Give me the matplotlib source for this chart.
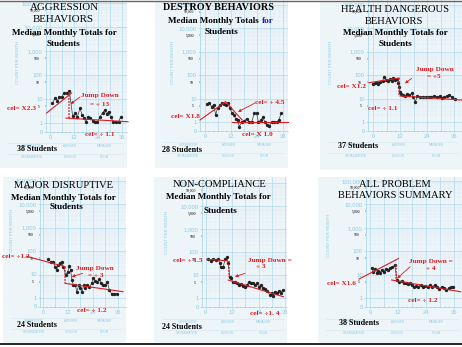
import matplotlib.pyplot as plt
from matplotlib.transforms import Affine2D
from matplotlib.patches import Rectangle
from matplotlib.lines import Line2D

W, H = 462, 347
RED = '#e01a1f'
GRID_TXT = '#8fcbe1'
CARD = '#eef5f9'

plt.rcParams['font.family'] = ['Liberation Serif', 'DejaVu Serif']

# median monthly totals: month number and count per month
agg_month = [1.2, 2.5, 3.7, 4.7, 5.8, 7.0, 8.3, 9.7, 11.3, 12.7, 13.7, 15.0, 16.0, 17.0, 18.0,
             19.0, 20.0, 21.3, 22.7, 23.7, 25.0, 26.3, 27.5, 28.3, 29.3, 30.3, 31.7, 33.0, 34.3, 35.3]
agg_count = [6.6, 10.7, 8.5, 12.5, 11.7, 18.3, 17.3, 21, 2.0, 2.5, 1.8, 4.1, 2.2, 1.6, 1.1,
             1.8, 1.6, 1.25, 1.1, 1.1, 1.8, 2.7, 3.5, 2.4, 3.0, 1.8, 1.1, 1.1, 1.1, 1.8]

des_month = [0.8, 1.8, 3.1, 4.0, 4.9, 5.8, 6.9, 7.7, 8.6, 9.5, 10.5, 11.5, 12.6, 13.4, 14.1, 15.0,
             15.8, 16.9, 18.1, 19.2, 20.3, 21.5, 22.7, 23.8, 24.6, 25.8, 26.6, 27.6, 28.6, 29.6,
             30.7, 31.9, 33.2, 34.1, 35.0]
des_count = [5.8, 6.6, 4.5, 5.5, 2.0, 4.1, 5.3, 6.2, 5.8, 5.3, 6.2, 3.8, 2.3, 2.0, 1.4, 1.2,
             0.63, 1.03, 1.1, 1.4, 1.0, 1.0, 2.3, 2.3, 1.0, 1.2, 1.6, 1.0, 0.75, 0.68,
             1.0, 1.0, 1.0, 1.2, 2.3]

hea_month = [0.15, 0.9, 1.6, 2.4, 3.1, 4.3, 4.9, 5.8, 6.8, 7.6, 8.3, 9.0, 9.9, 10.8, 11.3, 11.7,
             12.0, 12.4, 13.2, 14.2, 15.3, 16.1, 17.2, 17.9, 18.8, 19.7, 20.9, 22.4, 23.6, 24.8,
             25.9, 27.1, 28.3, 29.8, 30.7, 31.6, 32.8, 33.9, 35.0, 36.4]
hea_count = [40, 44, 47, 40, 52, 57, 85, 61, 57, 66, 55, 72, 61, 66, 44, 32,
             19.5, 15.5, 14, 12.8, 15.5, 14, 16.6, 11.3, 7.3, 12.8, 11.3, 12, 11.3, 12,
             12, 12.8, 11.3, 12.8, 10.2, 11.3, 12.8, 14, 11.3, 9.2]

maj_month = [2.5, 3.7, 5.0, 5.8, 6.6, 7.4, 8.2, 9.0, 9.8, 10.9, 11.9, 12.6, 13.3, 13.9, 14.6,
             15.5, 16.3, 17.2, 17.9, 18.8, 19.6, 20.3, 21.3, 22.3, 23.4, 24.2, 25.1, 26.1, 27.1,
             28.0, 29.0, 30.0, 30.9, 31.9, 33.0, 34.1, 35.4]
maj_count = [44, 35, 35, 21.5, 15.5, 25, 32, 35, 21.5, 9.5, 13.2, 23, 15.5, 5.8, 3.6,
             3.6, 1.85, 3.6, 2.6, 1.85, 3.6, 2.6, 3.6, 2.85, 4.2, 6.9, 5.5, 4.9, 6.2,
             4.2, 3.6, 3.6, 4.9, 2.2, 1.5, 1.5, 1.5]

non_month = [1.2, 2.4, 3.5, 4.5, 5.7, 6.5, 7.1, 8.0, 8.8, 9.5, 10.3, 10.9, 11.5, 12.3, 13.3,
             14.2, 15.1, 16.0, 17.0, 17.9, 18.8, 19.7, 20.6, 21.5, 22.4, 23.3, 24.2, 25.1, 26.0,
             27.0, 28.0, 29.1, 30.0, 30.7, 31.5, 32.4, 33.3, 34.2, 35.0]
non_count = [49.6, 43, 49.6, 46, 49.6, 33, 22, 23.6, 49.6, 60, 33, 8.7, 7.4, 5.3, 5.3,
             4.5, 3.8, 4.2, 3.4, 3.2, 3.8, 5.3, 4.5, 4.5, 3.8, 4.5, 3.2, 3.8, 2.7,
             2.5, 2.1, 1.4, 1.65, 1.26, 1.9, 1.65, 2.1, 1.75, 2.3]

all_month = [0.7, 1.4, 2.1, 2.9, 3.6, 4.3, 5.0, 5.9, 6.7, 7.6, 8.6, 9.6, 10.6, 11.7, 12.6, 13.6,
             14.5, 15.3, 16.2, 17.0, 17.9, 18.8, 19.7, 20.7, 21.8, 22.7, 23.7, 24.7, 25.8, 26.7,
             27.8, 28.8, 29.7, 30.8, 31.8, 32.8, 33.8, 34.8, 35.7]
all_count = [19, 13.6, 17.2, 11.6, 15, 12.3, 16, 13.6, 17.2, 16, 19, 21, 26, 6, 5.1, 5.6,
             4.4, 4.6, 4.1, 4.4, 3.7, 3.1, 3.3, 3.1, 3.7, 2.9, 3.3, 3.1, 3.7, 3.1,
             3.7, 2.9, 2.4, 3.1, 2.7, 2.3, 2.7, 2.9, 3.1]

# celeration lines (month, count, month, count), jumps (month, from, to), arrows (tail, head)
agg_cel = [(-1.7, 2.6, 10.8, 17.8), (8.0, 1.6, 39.0, 1.13)]
des_cel = [(-2.3, 1.22, 9.5, 7.3), (9.5, 7.3, 17.1, 1.22), (12.3, 1.0, 38.2, 1.0)]
hea_cel = [(-1.8, 47, 11.6, 74), (12.0, 12.8, 39.4, 8.6)]
maj_cel = [(-8.0, 60, 10.6, 21.5), (10.6, 4.2, 38.5, 1.85)]
non_cel = [(0.45, 49.6, 9.5, 43), (10.3, 6.2, 35.3, 1.17)]
all_cel = [(-4.7, 6.6, 12.2, 49), (9.3, 6.0, 38.9, 1.9)]

agg_jump = (9.5, 19.6, 1.6)
hea_jump = (11.6, 74, 12.8)
maj_jump = (10.6, 21.5, 4.2)
non_jump = (10.6, 43, 8.7)
all_jump = (11.2, 26, 6.0)

agg_arrow = ((15.0, 12.1), (10.3, 6.2))
des_arrow = ((23.0, 6.4), (15.2, 2.7))
hea_arrow = ((17.2, 72), (14.2, 44))
maj_arrow = ((19.1, 11.2), (13.8, 8.1))
non_arrow = ((17.9, 12.2), (13.3, 8.7))
all_arrow = ((17.2, 22), (11.7, 7.1))

fig = plt.figure(figsize=(W / 100, H / 100), dpi=100)
fig.patch.set_facecolor('white')
PX = Affine2D().scale(1 / W, -1 / H).translate(0, 1) + fig.transFigure


def label(x, y, s, size=5.2, color=RED, weight='bold', ha='left', **kw):
    fig.text(x, y, s, transform=PX, fontsize=size, color=color,
             fontweight=weight, ha=ha, va='center', **kw)


def chart(card, grid, x0, pxm, y1, dec, month, count, cel, jump, arrow, side):
    cx0, cy0, cx1, cy1 = card
    fig.add_artist(Rectangle((cx0, cy0), cx1 - cx0, cy1 - cy0, transform=PX,
                             facecolor=CARD, edgecolor='none', zorder=-5))
    gl, gt, gr, gb = grid
    ax = fig.add_axes([gl / W, 1 - gb / H, (gr - gl) / W, (gb - gt) / H])
    ax.set_facecolor('none')
    ax.set_yscale('log')
    xlo, xhi = (gl - x0) / pxm, (gr - x0) / pxm
    ylo, yhi = 10 ** ((y1 - gb) / dec), 10 ** ((y1 - gt) / dec)
    ax.set_xlim(xlo, xhi)
    ax.set_ylim(ylo, yhi)

    # chart paper lines
    for e in range(6):
        for k in range(1, 10):
            v = k * 10 ** e
            if v < yhi:
                ax.axhline(v, color='#b2d9ea' if k == 1 else '#d6ebf3',
                           lw=0.5 if k == 1 else 0.3, zorder=0)
    for m in range(-2, 41, 2):
        if xlo < m < xhi:
            ax.axvline(m, color='#b2d9ea' if m % 6 == 0 else '#dbedf5',
                       lw=0.5 if m % 6 == 0 else 0.3, zorder=0)

    decs = [d for d in (1, 10, 100, 1000, 10000, 100000) if d < yhi]
    halves = [5 * d for d in decs if 5 * d < yhi]
    ax.set_yticks([ylo] + decs, ['0'] + [f'{d:,}' for d in decs])
    ax.set_yticks(halves, [f'{h:,}' for h in halves], minor=True)
    ax.set_xticks([0, 12, 24, 36], ['0', '12', '24', '36'])
    ax.set_xticks(range(0, 37, 2), minor=True)
    ax.tick_params(colors=GRID_TXT, labelsize=4.2, length=1.6, width=0.4, pad=0.8,
                   labelfontfamily='Liberation Sans')
    ax.tick_params(which='minor', labelsize=2.8, length=1, width=0.3)
    for s in ('top', 'right'):
        ax.spines[s].set_visible(False)
    for s in ('left', 'bottom'):
        ax.spines[s].set_color('#a5d3e7')
        ax.spines[s].set_linewidth(0.5)

    ax.plot(month, count, color='#3c3c3c', lw=0.5, marker='o', ms=1.4,
            mec='#222222', mfc='#222222', zorder=3)
    for m0, c0, m1, c1 in cel:
        ax.plot([m0, m1], [c0, c1], color=RED, lw=0.8, zorder=4, clip_on=False)
    if jump:
        ax.plot([jump[0], jump[0]], jump[1:], color=RED, lw=1.1, ls=(0, (1, 1)),
                zorder=4, clip_on=False)
    ax.annotate('', xy=arrow[1], xytext=arrow[0], annotation_clip=False, zorder=5,
                arrowprops=dict(arrowstyle='-|>', color=RED, lw=0.6,
                                mutation_scale=4, shrinkA=0, shrinkB=0))

    label(side[0], side[1], 'COUNT PER MONTH', size=3.2, color=GRID_TXT, weight='normal',
          ha='center', rotation=90, family='Liberation Sans')
    for dy, names in ((15, ('SUPERVISOR', 'ADVISER', 'MANAGER')),
                      (26, ('ORGANIZATION', 'DIVISION', 'ROOM'))):
        fig.add_artist(Line2D([cx0 + 8, cx1 - 4], [gb + dy - 3] * 2, transform=PX,
                              color='#d2e8f1', lw=0.4, zorder=-4))
        for f, nm in zip((0.25, 0.55, 0.82), names):
            label(cx0 + f * (cx1 - cx0), gb + dy, nm, size=2.2, color=GRID_TXT,
                  weight='normal', ha='center', family='Liberation Sans')
    return ax


chart((0, 1, 127, 168), (46, 0, 127, 131.5), 50, 2.0, 123, 24,
      agg_month, agg_count, agg_cel, agg_jump, agg_arrow, (18, 62))
chart((155, 1, 288, 168), (200, 0, 288, 130.5), 205, 2.17, 122, 23.5,
      des_month, des_count, des_cel, None, des_arrow, (173, 62))
chart((320, 1, 462, 170), (368, 0, 462, 130.5), 373, 2.25, 122, 23.5,
      hea_month, hea_count, hea_cel, hea_jump, hea_arrow, (331, 62))
chart((3, 177, 126, 343), (40, 177, 126, 306.5), 43, 2.08, 298, 23.5,
      maj_month, maj_count, maj_cel, maj_jump, maj_arrow, (12, 230))
chart((154, 177, 287, 343), (202, 177, 287, 307), 205.7, 2.2, 298.3, 23,
      non_month, non_count, non_cel, non_jump, non_arrow, (167, 232))
chart((318, 177, 462, 343), (366, 177, 462, 307), 370, 2.33, 298.3, 23.5,
      all_month, all_count, all_cel, all_jump, all_arrow, (329, 235))

# titles
label(64, 8, 'AGGRESSION', 7.8, 'black', 'normal', 'center')
label(63, 20, 'BEHAVIORS', 7.8, 'black', 'normal', 'center')
label(64, 33, 'Median Monthly Totals for', 6.6, 'black', 'bold', 'center')
label(63, 44, 'Students', 6.6, 'black', 'bold', 'center')

label(218, 7, 'DESTROY BEHAVIORS', 7.3, 'black', 'bold', 'center')
label(259, 21, 'Median Monthly Totals', 6.6, 'black', 'bold', 'right')
label(262, 21, 'for', 6.6, '#1c1cd8', 'bold', 'left')
label(221, 32, 'Students', 6.6, 'black', 'bold', 'center')

label(395, 9, 'HEALTH DANGEROUS', 7.6, 'black', 'normal', 'center')
label(394, 21, 'BEHAVIORS', 7.6, 'black', 'normal', 'center')
label(395, 33, 'Median Monthly Totals for', 6.6, 'black', 'bold', 'center')
label(395, 44, 'Students', 6.6, 'black', 'bold', 'center')

label(63, 186, 'MAJOR DISRUPTIVE', 7.6, 'black', 'normal', 'center')
label(63, 198, 'Median Monthly Totals for', 6.6, 'black', 'bold', 'center')
label(66, 207, 'Students', 6.6, 'black', 'bold', 'center')

label(220, 185, 'NON-COMPLIANCE', 7.6, 'black', 'normal', 'center')
label(218, 197, 'Median Monthly Totals for', 6.6, 'black', 'bold', 'center')
label(220, 211, 'Students', 6.6, 'black', 'bold', 'center')

label(395, 185, 'ALL PROBLEM', 7.6, 'black', 'normal', 'center')
label(395, 196, 'BEHAVIORS SUMMARY', 7.6, 'black', 'normal', 'center')

# celeration and jump notes
label(7, 108, 'cel= X2.3')
label(100, 95, 'Jump Down', ha='center')
label(100, 104, '= ÷ 13', ha='center')
label(85, 135, 'cel= ÷ 1.1')
label(17, 149, '38 Students', 5.8, 'black')

label(171, 117, 'cel= X1.8')
label(255, 102, 'cel= ÷ 4.5')
label(242, 135, 'cel= X 1.0')
label(162, 150, '28 Students', 5.8, 'black')

label(435, 69, 'Jump Down', ha='center')
label(434, 76, '= ÷5', ha='center')
label(337, 87, 'cel= X1.2')
label(368, 108, 'cel= ÷ 1.1')
label(338, 146, '37 Students', 5.8, 'black')

label(2, 256, 'cel= ÷1.2')
label(95, 269, 'Jump Down', ha='center')
label(96, 276, '= ÷ 3', ha='center')
label(77, 311, 'cel= ÷ 1.2')
label(17, 325, '24 Students', 5.8, 'black')

label(173, 261, 'cel= ÷ 1.5')
label(248, 261, 'Jump Down =')
label(261, 267, '÷ 3', ha='center')
label(250, 314, 'cel= ÷1. 4')
label(162, 327, '24 Students', 5.8, 'black')

label(409, 262, 'Jump Down =')
label(431, 269, '÷ 4', ha='center')
label(327, 284, 'cel= X1.6')
label(408, 301, 'cel= ÷ 1.2')
label(339, 323, '38 Students', 5.8, 'black')

fig.add_artist(Line2D([0, W], [0.5, 0.5], transform=PX, color='#666666', lw=1.0))
fig.add_artist(Line2D([0, W], [344.5, 344.5], transform=PX, color='black', lw=1.2))

fig.savefig('out.png', dpi=100)
